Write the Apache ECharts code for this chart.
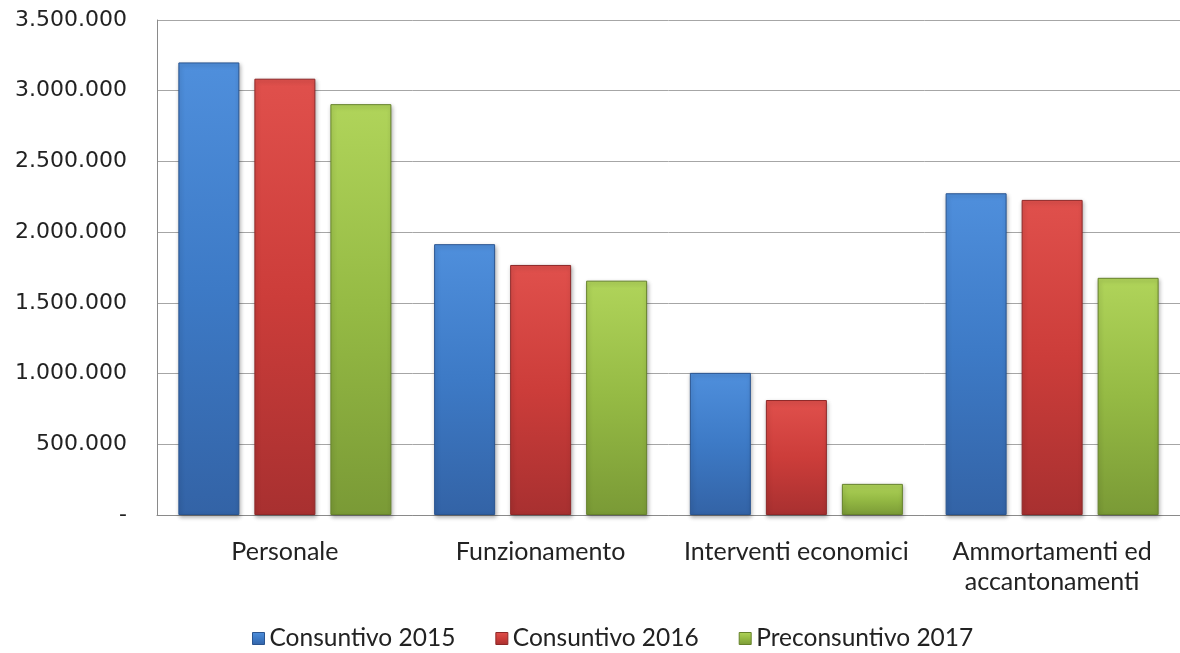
<!DOCTYPE html>
<html>
<head>
<meta charset="utf-8">
<script src="https://cdn.jsdelivr.net/npm/echarts@6/dist/echarts.min.js"></script>
<style>
html,body{margin:0;padding:0;background:#fff;overflow:hidden;}
#c{width:1180px;height:653px;}
</style>
</head>
<body>
<div id="c"></div>
<script>
const categories = ['Personale', 'Funzionamento', 'Interventi economici', 'Ammortamenti ed\naccantonamenti'];
const seriesNames = ['Consuntivo 2015', 'Consuntivo 2016', 'Preconsuntivo 2017'];
const consuntivo2015 = [3200000, 1915000, 1005000, 2275000];
const consuntivo2016 = [3085000, 1768000, 813000, 2228000];
const preconsuntivo2017 = [2905000, 1657000, 220000, 1677000];
const yTicks = [0, 500000, 1000000, 1500000, 2000000, 2500000, 3000000, 3500000];

const palettes = [
  {top:'#4f8fdc', mid:'#3d7ac6', bot:'#3363a6', edge:'#2a5590'},
  {top:'#e0504c', mid:'#cc3d3a', bot:'#a83030', edge:'#8e2828'},
  {top:'#b0d45a', mid:'#95ba44', bot:'#7a9a36', edge:'#66822c'}
];
function grad(p){
  return new echarts.graphic.LinearGradient(0,0,0,1,[
    {offset:0,color:p.top},{offset:0.5,color:p.mid},{offset:1,color:p.bot}
  ]);
}
function fmt(v){
  if (v === 0) return '-';
  return String(Math.round(v)).replace(/\B(?=(\d{3})+(?!\d))/g,'.');
}
const dataSets = [consuntivo2015, consuntivo2016, preconsuntivo2017];
const chart = echarts.init(document.getElementById('c'));
chart.setOption({
  animation:false,
  backgroundColor:'#fff',
  grid:{left:157, width:1030, top:20, height:495, containLabel:false},
  legend:{
    top:621, left:247,
    icon:'rect', itemWidth:12, itemHeight:12, itemGap:40,
    textStyle:{fontFamily:'Lato', fontSize:24.5, color:'#222'},
    data:seriesNames.map((n,i)=>({name:n, itemStyle:{color:grad(palettes[i]), borderColor:palettes[i].edge, borderWidth:1}}))
  },
  xAxis:{
    type:'category', data:categories,
    axisLine:{lineStyle:{color:'#8a8a8a', width:1}},
    axisTick:{show:false},
    axisLabel:{fontFamily:'Lato', fontSize:25, color:'#222', margin:22, lineHeight:30, interval:0}
  },
  yAxis:{
    type:'value', min:0, max:3500000, interval:500000,
    axisLine:{show:true, lineStyle:{color:'#8a8a8a'}},
    axisTick:{show:false},
    splitLine:{lineStyle:{color:'#a6a6a6', width:1}},
    axisLabel:{fontFamily:'DejaVu Sans', fontSize:22, color:'#222', margin:30, formatter:fmt}
  },
  series: dataSets.map((d,i)=>({
    name:seriesNames[i], type:'bar', data:d,
    barWidth:61, barGap:'24.6%',
    itemStyle:{color:grad(palettes[i]), borderColor:palettes[i].edge, borderWidth:1,
      shadowColor:'rgba(0,0,0,0.3)', shadowBlur:4, shadowOffsetX:1, shadowOffsetY:2}
  }))
});
</script>
</body>
</html>
